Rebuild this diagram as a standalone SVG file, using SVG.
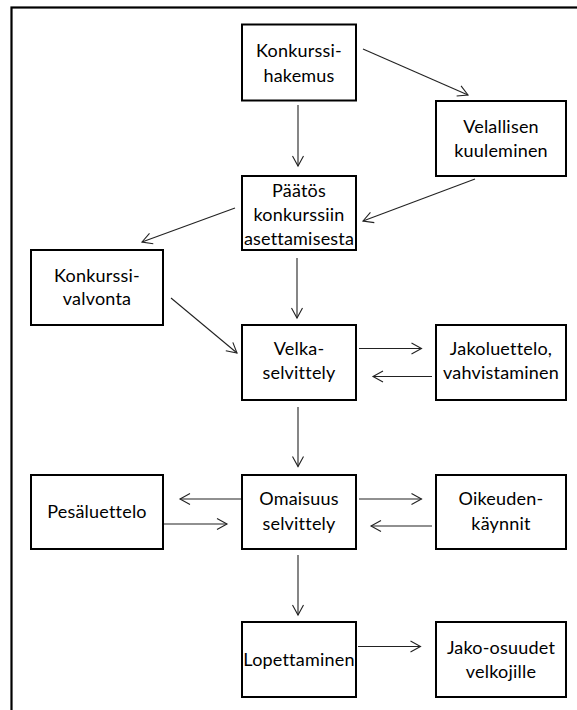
<svg xmlns="http://www.w3.org/2000/svg" width="577" height="710" viewBox="0 0 577 710">
<style>
.frame{fill:none;stroke:#000;stroke-width:2.2}
.box{fill:#fff;stroke:#000;stroke-width:2}
.lbl{font-family:Lato,"Open Sans",sans-serif;font-size:18px;letter-spacing:0.2px;fill:#000;text-anchor:middle}
.conn line{stroke:#222;stroke-width:1.1;fill:none;marker-end:url(#arr)}
</style>
<defs>
<marker id="arr" markerUnits="userSpaceOnUse" markerWidth="14" markerHeight="14" viewBox="-12 -7 14 14" refX="0" refY="0" orient="auto">
<path d="M-10,-5.5 L0,0 L-10,5.5" fill="none" stroke="#222" stroke-width="1.1"/>
</marker>
</defs>
<rect width="577" height="710" fill="#fff"/>
<rect class="frame" x="11.5" y="7.5" width="620" height="730"/>
<g class="conn">
<line x1="363" y1="49" x2="468" y2="95"/>
<line x1="298" y1="105" x2="298" y2="166"/>
<line x1="475" y1="179" x2="363" y2="221"/>
<line x1="235" y1="208" x2="142" y2="242"/>
<line x1="297" y1="258" x2="297" y2="318"/>
<line x1="171" y1="298" x2="237" y2="353"/>
<line x1="359" y1="348.5" x2="421.5" y2="348.5"/>
<line x1="432" y1="376.5" x2="373" y2="376.5"/>
<line x1="298" y1="407" x2="298" y2="466.5"/>
<line x1="241" y1="499" x2="180" y2="499"/>
<line x1="163" y1="524" x2="227" y2="524"/>
<line x1="359" y1="499" x2="421.5" y2="499"/>
<line x1="432" y1="526" x2="371" y2="526"/>
<line x1="298" y1="555" x2="298" y2="615"/>
<line x1="358" y1="646.5" x2="420.5" y2="646.5"/>
</g>
<g id="konkurssihakemus"><rect class="box" x="242" y="24.5" width="114" height="76"/><text class="lbl" x="299" y="57">Konkurssi-</text><text class="lbl" x="299" y="82">hakemus</text></g>
<g id="velallisen"><rect class="box" x="436" y="101" width="130" height="75"/><text class="lbl" x="501" y="133">Velallisen</text><text class="lbl" x="501" y="157">kuuleminen</text></g>
<g id="paatos"><rect class="box" x="242" y="176" width="114" height="74"/><text class="lbl" x="299" y="197">Päätös</text><text class="lbl" x="299" y="221">konkurssiin</text><text class="lbl" x="299" y="245">asettamisesta</text></g>
<g id="valvonta"><rect class="box" x="31" y="250" width="132" height="75"/><text class="lbl" x="97" y="282">Konkurssi-</text><text class="lbl" x="97" y="305">valvonta</text></g>
<g id="velka"><rect class="box" x="242" y="325" width="114" height="75"/><text class="lbl" x="299" y="355">Velka-</text><text class="lbl" x="299" y="379">selvittely</text></g>
<g id="jakoluettelo"><rect class="box" x="436" y="325" width="130" height="75"/><text class="lbl" x="501" y="355">Jakoluettelo,</text><text class="lbl" x="501" y="379">vahvistaminen</text></g>
<g id="pesaluettelo"><rect class="box" x="31" y="475" width="132" height="74"/><text class="lbl" x="97" y="518">Pesäluettelo</text></g>
<g id="omaisuus"><rect class="box" x="242" y="475" width="114" height="74"/><text class="lbl" x="299" y="505">Omaisuus</text><text class="lbl" x="299" y="530">selvittely</text></g>
<g id="oikeudenkaynnit"><rect class="box" x="436" y="475" width="130" height="74"/><text class="lbl" x="501" y="505">Oikeuden-</text><text class="lbl" x="501" y="530">käynnit</text></g>
<g id="lopettaminen"><rect class="box" x="242" y="622" width="114" height="75"/><text class="lbl" x="299" y="666">Lopettaminen</text></g>
<g id="jakoosuudet"><rect class="box" x="436" y="622" width="130" height="75"/><text class="lbl" x="501" y="654">Jako-osuudet</text><text class="lbl" x="501" y="678">velkojille</text></g>
</svg>
